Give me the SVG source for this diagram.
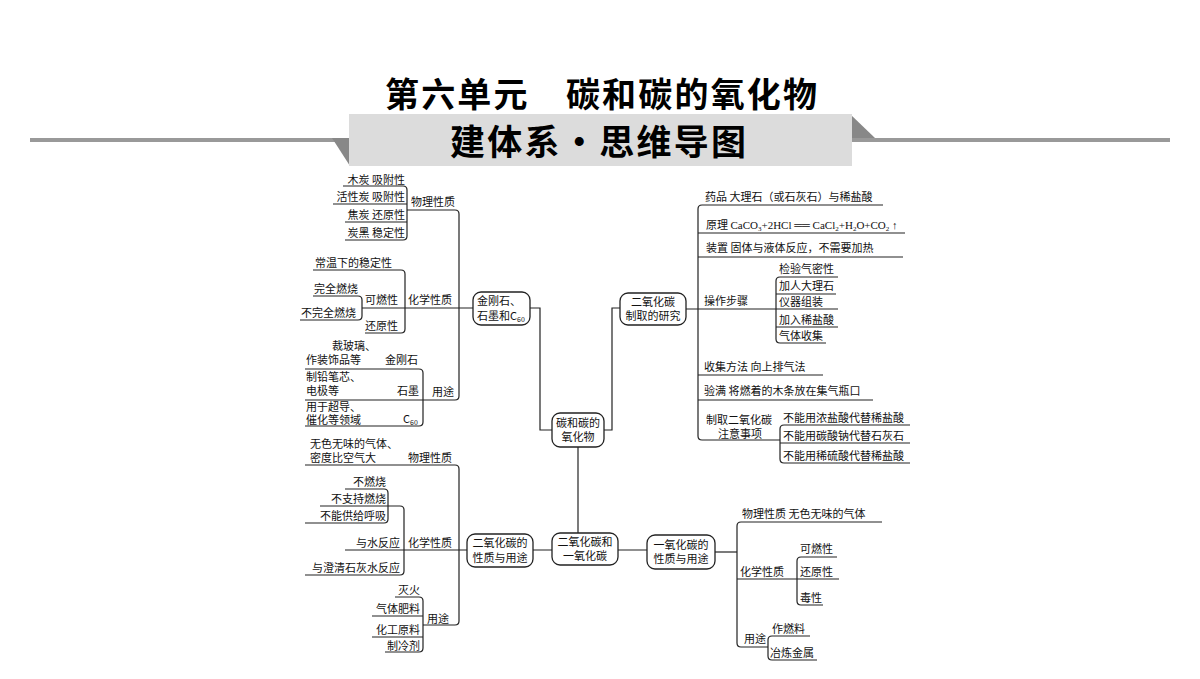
<svg xmlns="http://www.w3.org/2000/svg" width="1200" height="679" viewBox="0 0 1200 679">
<style>
.l{fill:none;stroke:#222;stroke-width:1.2}
.b{fill:#fff;stroke:#222;stroke-width:1.3}
text{font-family:"Noto Sans CJK SC","Liberation Serif",serif;font-size:11px;fill:#111}
.e{text-anchor:end}
.m{text-anchor:middle}
.h{font-weight:bold;text-anchor:middle;fill:#000}
</style>
<rect width="1200" height="679" fill="#fff"/>
<g id="header">
<line x1="30" y1="140" x2="350" y2="140" stroke="#999" stroke-width="4"/>
<line x1="852" y1="140" x2="1170" y2="140" stroke="#999" stroke-width="4"/>
<polygon points="332,138 350,138 350,166" fill="#888"/>
<polygon points="850,114 875,138 850,138" fill="#888"/>
<rect x="349" y="114" width="503" height="52" fill="#dcdcdc"/>
<text class="h" x="601" y="107" style="font-size:34px" textLength="432">第六单元　碳和碳的氧化物</text>
<text class="h" x="598" y="155" style="font-size:35px" textLength="296">建体系·思维导图</text>
</g>
<g id="connectors">
<path class="l" d="M407,210 H455 Q459,210 459,214 V396 Q459,400 455,400 H305"/>
<path class="l" d="M362,308 H473"/>
<path class="l" d="M343,186 H403 Q407,186 407,190 V236 Q407,240 403,240 H345 M333,204 H407 M345,222 H407"/>
<path class="l" d="M313,270 H401 Q405,270 405,274 V329 Q405,333 401,333 H365"/>
<path class="l" d="M313,296 H358 Q362,296 362,300 V316 Q362,320 358,320 H300"/>
<path class="l" d="M305,369 H419 Q423,369 423,373 V422 Q423,426 419,426 H305"/>
<path class="l" d="M530,308 H540 V430 H552"/>
<path class="l" d="M620,308 H612 V430 H604"/>
<path class="l" d="M578,447 V533"/>
<path class="l" d="M883,205 H702 Q698,205 698,209 V436 Q698,440 702,440 H780"/>
<path class="l" d="M698,233 H905 M698,257 H903 M686,309 H838 M698,375 H823 M698,400 H873"/>
<path class="l" d="M838,277 H780 Q776,277 776,281 V339 Q776,343 780,343 H826 M776,294 H836 M776,327 H838"/>
<path class="l" d="M910,425 H784 Q780,425 780,429 V459 Q780,463 784,463 H910 M780,443 H910"/>
<path class="l" d="M305,465 H455 Q459,465 459,469 V621 Q459,625 455,625 H423"/>
<path class="l" d="M345,550 H467 M533,550 H552 M618,550 H647"/>
<path class="l" d="M320,506 H400 Q404,506 404,510 V571 Q404,575 400,575 H305"/>
<path class="l" d="M345,489 H384 Q388,489 388,493 V519 Q388,523 384,523 H305"/>
<path class="l" d="M395,597 H419 Q423,597 423,601 V648 Q423,652 419,652 H385 M372,616 H423 M372,637 H423"/>
<path class="l" d="M715,552 H737"/>
<path class="l" d="M882,522 H741 Q737,522 737,526 V643 Q737,647 741,647 H768 M737,579 H839"/>
<path class="l" d="M837,557 H801 Q797,557 797,561 V601 Q797,605 801,605 H823"/>
<path class="l" d="M810,636 H772 Q768,636 768,640 V656 Q768,660 772,660 H817"/>
</g>
<g id="center"><rect class="b" x="552" y="413" width="52" height="34" rx="8"/><text class="m" x="578" y="427">碳和碳的</text><text class="m" x="578" y="441">氧化物</text></g>
<g id="n-carbon"><rect class="b" x="473" y="292" width="57" height="33" rx="8"/><text x="477" y="305">金刚石、</text><text x="477" y="320">石墨和C<tspan style="font-size:7px" dy="2">60</tspan></text></g>
<g id="n-co2prep"><rect class="b" x="620" y="293" width="66" height="32" rx="8"/><text class="m" x="653" y="306">二氧化碳</text><text class="m" x="653" y="320">制取的研究</text></g>
<g id="n-co2co"><rect class="b" x="552" y="533" width="66" height="32" rx="8"/><text class="m" x="585" y="546">二氧化碳和</text><text class="m" x="585" y="560">一氧化碳</text></g>
<g id="n-co2"><rect class="b" x="467" y="534" width="66" height="33" rx="8"/><text class="m" x="500" y="547">二氧化碳的</text><text class="m" x="500" y="562">性质与用途</text></g>
<g id="n-co"><rect class="b" x="647" y="535" width="68" height="34" rx="8"/><text class="m" x="681" y="549">一氧化碳的</text><text class="m" x="681" y="563">性质与用途</text></g>
<g id="carbon-texts">
<text class="e" x="405" y="184">木炭 吸附性</text>
<text class="e" x="405" y="201">活性炭 吸附性</text>
<text class="e" x="405" y="219">焦炭 还原性</text>
<text class="e" x="405" y="237">炭黑 稳定性</text>
<text x="411" y="206">物理性质</text>
<text x="315" y="267">常温下的稳定性</text>
<text x="314" y="293">完全燃烧</text>
<text x="301" y="317">不完全燃烧</text>
<text x="365" y="304">可燃性</text>
<text x="365" y="330">还原性</text>
<text x="408" y="304">化学性质</text>
<text x="332" y="350">裁玻璃、</text>
<text x="306" y="364">作装饰品等</text>
<text x="385" y="364">金刚石</text>
<text x="306" y="381">制铅笔芯、</text>
<text x="306" y="395">电极等</text>
<text x="397" y="395">石墨</text>
<text x="432" y="396">用途</text>
<text x="306" y="411">用于超导、</text>
<text x="306" y="424">催化等领域</text>
<text x="403" y="423">C<tspan style="font-size:7px" dy="2">60</tspan></text>
</g>
<g id="prep-texts">
<text x="705" y="201">药品  大理石（或石灰石）与稀盐酸</text>
<text x="706" y="229">原理  <tspan style="font-family:'Liberation Serif',serif">CaCO<tspan style="font-size:7px" dy="2">3</tspan><tspan dy="-2">+2HCl ══ CaCl</tspan><tspan style="font-size:7px" dy="2">2</tspan><tspan dy="-2">+H</tspan><tspan style="font-size:7px" dy="2">2</tspan><tspan dy="-2">O+CO</tspan><tspan style="font-size:7px" dy="2">2</tspan><tspan dy="-2"> ↑</tspan></tspan></text>
<text x="706" y="252">装置  固体与液体反应，不需要加热</text>
<text x="704" y="305">操作步骤</text>
<text x="779" y="273">检验气密性</text>
<text x="779" y="290">加人大理石</text>
<text x="779" y="306">仪器组装</text>
<text x="779" y="324">加入稀盐酸</text>
<text x="779" y="340">气体收集</text>
<text x="704" y="371">收集方法  向上排气法</text>
<text x="704" y="395">验满  将燃着的木条放在集气瓶口</text>
<text x="706" y="424">制取二氧化碳</text>
<text x="718" y="438">注意事项</text>
<text x="783" y="422">不能用浓盐酸代替稀盐酸</text>
<text x="783" y="440">不能用碳酸钠代替石灰石</text>
<text x="783" y="460">不能用稀硫酸代替稀盐酸</text>
</g>
<g id="co2-texts">
<text x="310" y="448">无色无味的气体、</text>
<text x="310" y="462">密度比空气大</text>
<text x="408" y="462">物理性质</text>
<text class="e" x="386" y="486">不燃烧</text>
<text class="e" x="386" y="503">不支持燃烧</text>
<text class="e" x="386" y="520">不能供给呼吸</text>
<text class="e" x="400" y="547">与水反应</text>
<text x="408" y="547">化学性质</text>
<text class="e" x="400" y="572">与澄清石灰水反应</text>
<text class="e" x="420" y="594">灭火</text>
<text class="e" x="420" y="613">气体肥料</text>
<text class="e" x="420" y="634">化工原料</text>
<text class="e" x="420" y="650">制冷剂</text>
<text x="427" y="623">用途</text>
</g>
<g id="co-texts">
<text x="742" y="518">物理性质  无色无味的气体</text>
<text x="740" y="576">化学性质</text>
<text x="800" y="553">可燃性</text>
<text x="800" y="576">还原性</text>
<text x="800" y="602">毒性</text>
<text x="744" y="643">用途</text>
<text x="772" y="633">作燃料</text>
<text x="770" y="657">冶炼金属</text>
</g>
</svg>
